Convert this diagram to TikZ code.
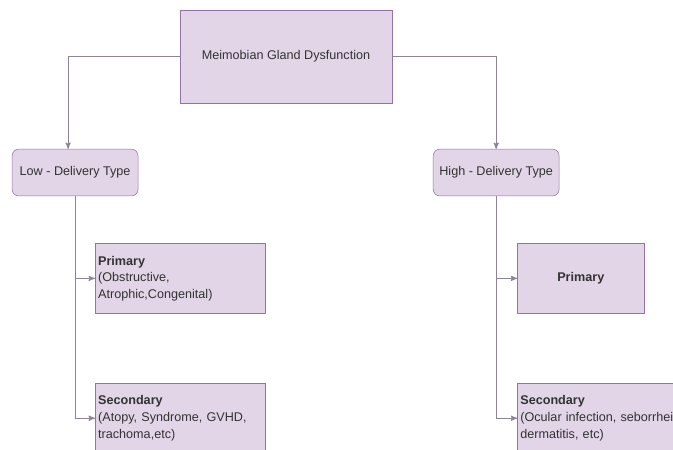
\documentclass[tikz,border=0pt]{standalone}
\usepackage{fontspec}
\setmainfont{Liberation Sans}
\usepackage{tikz}
\usetikzlibrary{shapes.geometric, arrows}
\definecolor{boxfill}{HTML}{E1D5E7}
\definecolor{boxline}{HTML}{9673A6}
\definecolor{linkline}{HTML}{8E849A}
\tikzstyle{root} = [rectangle, minimum width=5.61cm, minimum height=2.46cm, text centered, draw=boxline, fill=boxfill, text=black!80, font=\fontsize{9.5pt}{12.5pt}\selectfont]
\tikzstyle{kind} = [rectangle, rounded corners=5pt, minimum width=3.33cm, minimum height=1.24cm, text centered, draw=boxline, fill=boxfill, text=black!80, font=\fontsize{9.5pt}{12.5pt}\selectfont]
\tikzstyle{cause} = [rectangle, minimum width=4.5cm, minimum height=1.85cm, text width=4.34cm, inner sep=0.08cm, align=left, draw=boxline, fill=boxfill, text=black!80, font=\fontsize{9.5pt}{12.5pt}\selectfont]
\tikzstyle{arrow} = [line width=0.75pt, draw=linkline, ->, >=stealth']

\begin{document}
\begin{tikzpicture}[node distance=2.8cm]
            \clip (-7.567,1.495) rectangle (10.239,-10.385);
            \node(mgd)[root]{Meimobian Gland Dysfunction};
            \node(low)[kind,below of=mgd,xshift=-5.58cm,yshift=-0.27cm]{Low - Delivery Type};
            \node(high)[kind,below of=mgd,xshift=5.56cm,yshift=-0.27cm]{High - Delivery Type};
            \node(lowprim)[cause,below of=low,xshift=2.78cm]{\textbf{Primary}\\(Obstructive,\\Atrophic,Congenital)};
            \node(lowsec)[cause,below of=lowprim,yshift=-0.9cm]{\textbf{Secondary}\\(Atopy, Syndrome, GVHD,\\trachoma,etc)};
            \node(highprim)[kind,rounded corners=0pt,minimum width=3.36cm,minimum height=1.85cm,below of=high,xshift=2.24cm]{\textbf{Primary}};
            \node(highsec)[cause,text width=5cm,minimum width=5.16cm,below of=highprim,xshift=0.9cm,yshift=-0.9cm]{\textbf{Secondary}\\(Ocular infection, seborrheic\\dermatitis, etc)};
            \draw[arrow](mgd.west)-|([xshift=-0.185cm]low.north);
            \draw[arrow](mgd.east)-|(high.north);
            \draw[arrow](low.south)|-(lowprim.west);
            \draw[arrow](low.south)|-(lowsec.west);
            \draw[arrow](high.south)|-(highprim.west);
            \draw[arrow](high.south)|-(highsec.west);
        \end{tikzpicture}
\end{document}
